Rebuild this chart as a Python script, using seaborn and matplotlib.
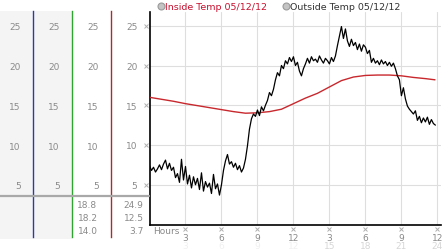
import numpy as np
import pandas as pd
import matplotlib
matplotlib.use("Agg")
import matplotlib.pyplot as plt
import seaborn as sns
from matplotlib.transforms import blended_transform_factory
from matplotlib.patches import Rectangle
from matplotlib.lines import Line2D

# ---------------- data ----------------
inside_hours = [0, 1, 2, 3, 4, 5, 6, 7, 8, 9, 10, 11, 12, 13, 14, 15, 16, 17, 18, 19, 20, 21, 22, 23, 23.8]
inside_temp = [16.0, 15.75, 15.5, 15.2, 14.95, 14.7, 14.45, 14.2, 14.0, 14.05, 14.2, 14.5, 15.2,
               15.9, 16.5, 17.3, 18.1, 18.55, 18.75, 18.8, 18.8, 18.7, 18.5, 18.35, 18.2]

# outside temperature, 10-minute readings from 00:00
outside_temp = [
    7.4, 6.8, 7.2, 6.6, 7.0, 7.5,
    6.9, 7.6, 8.1, 7.0, 7.7, 6.8,
    7.2, 5.9, 6.4, 5.3, 8.2, 5.6,
    7.3, 5.1, 6.2, 4.6, 6.0, 5.0,
    5.8, 4.4, 6.5, 4.2, 5.4, 4.7,
    5.2, 3.9, 6.3, 4.5, 5.1, 3.7,
    5.0, 6.8, 8.0, 8.8, 7.6, 7.9,
    7.2, 7.7, 6.9, 7.4, 6.6, 7.1,
    8.2, 9.9, 12.0, 13.3, 13.9, 13.6,
    14.4, 13.7, 14.8, 14.3, 15.0, 15.6,
    16.6, 16.2, 17.0, 18.2, 19.1, 18.7,
    20.0, 19.6, 20.6, 20.2, 21.0, 20.5,
    21.1, 20.0, 20.4, 19.3, 18.7, 19.6,
    20.2, 20.9, 20.3, 21.1, 20.6, 20.8,
    20.4, 21.2, 20.7, 20.3, 20.9, 20.6,
    20.2, 21.0, 20.5, 21.2, 22.5, 23.7,
    24.9, 23.4, 24.6, 23.1, 22.4, 23.3,
    22.5, 22.9, 22.0, 22.7, 21.8, 22.6,
    22.3, 21.5, 21.9, 20.4, 20.9, 20.3,
    20.6, 20.1, 20.7, 20.2, 20.5, 20.0,
    20.4, 19.9, 20.3, 19.6, 18.7, 18.2,
    16.2, 17.2, 15.8, 14.9, 14.5, 14.2,
    13.9, 14.3, 13.1, 13.6, 12.8, 13.4,
    12.9, 13.5, 12.6, 13.2, 12.7, 12.5,
]
outside_hours = [i / 6 for i in range(len(outside_temp))]

y_ticks = [5, 10, 15, 20, 25]
x_ticks = [3, 6, 9, 12, 15, 18, 21, 24]
x_labels = ["3", "6", "9", "12", "3", "6", "9", "12"]
x_labels2 = ["3", "6", "9", "12", "15", "18", "21", "24"]
legend_labels = ["Inside Temp 05/12/12", "Outside Temp 05/12/12"]
stats_inside = ["18.8", "18.2", "14.0"]
stats_outside = ["24.9", "12.5", "3.7"]

inside_df = pd.DataFrame({"hour": inside_hours, "temp": inside_temp})
outside_df = pd.DataFrame({"hour": outside_hours, "temp": outside_temp})

# ---------------- style ----------------
sns.set_style("white")
plt.rcParams["font.family"] = ["DejaVu Sans"]
FS = 6.5
LABEL_C = "#8a8a8a"

W, H = 442, 253
fig = plt.figure(figsize=(W / 100, H / 100), dpi=100)


def rect(x0, y0, x1, y1):
    return [x0 / W, 1 - y1 / H, (x1 - x0) / W, (y1 - y0) / H]


# background of left columns (drawn beneath every axes)
fig.patches.append(Rectangle((0, 1 - 240 / H), 72 / W, (240 - 12) / H,
                             transform=fig.transFigure, facecolor="#f4f4f4",
                             edgecolor="none", zorder=-5))

# main axes
Y0_PX, PX_PER_UNIT = 225.5, 7.95
ax = fig.add_axes(rect(149.5, 13, 441, 225.5))
ax.set_facecolor("none")
ax.set_ylim(0, (Y0_PX - 13) / PX_PER_UNIT)
ax.set_xlim(0, 24.3)

sns.lineplot(data=inside_df, x="hour", y="temp", ax=ax, color="#c8282d", lw=1.0, zorder=3)
sns.lineplot(data=outside_df, x="hour", y="temp", ax=ax, color="black", lw=0.9, zorder=4)

ax.set_xlabel("")
ax.set_ylabel("")
ax.set_yticks(y_ticks)
ax.set_yticklabels([str(t) for t in y_ticks])
ax.set_xticks(x_ticks)
ax.set_xticklabels(x_labels)
ax.tick_params(axis="y", length=0, pad=8.8, labelsize=FS, labelcolor=LABEL_C)
ax.tick_params(axis="x", length=0, pad=6.0, labelsize=FS, labelcolor=LABEL_C)
ax.grid(True, color="#dedede", lw=0.8)
for s in ["top", "right"]:
    ax.spines[s].set_visible(False)
ax.spines["left"].set_color("black")
ax.spines["bottom"].set_color("black")
ax.spines["left"].set_linewidth(1.2)
ax.spines["bottom"].set_linewidth(1.2)

# small tick glyphs
tr_y = blended_transform_factory(ax.transAxes, ax.transData)
ax.plot([-0.012] * len(y_ticks), y_ticks, ls="none", marker="x", ms=2.4, mew=0.7,
        color="#b0b0b0", transform=tr_y, clip_on=False)
tr_x = blended_transform_factory(ax.transData, ax.transAxes)
ax.plot(x_ticks, [-0.021] * len(x_ticks), ls="none", marker="x", ms=2.4, mew=0.7,
        color="#b0b0b0", transform=tr_x, clip_on=False)

# secondary hour labels
for i, (t, lab) in enumerate(zip(x_ticks, x_labels2)):
    col = "#f0f0f0" if i < 4 else "#d6d6d6"
    ax.text(t, (Y0_PX - 247) / 212.5, lab, transform=tr_x, ha="center", va="center",
            fontsize=FS, color=col, clip_on=False)

fig.text(153 / W, 1 - 232 / H, "Hours", ha="left", va="center", fontsize=FS, color=LABEL_C)

# left axis columns
ylo = (Y0_PX - 238) / PX_PER_UNIT
yhi = (Y0_PX - 12) / PX_PER_UNIT
for xline, color in [(33, "#2a3aa8"), (72, "#2fa52f"), (111, "#b02a2a")]:
    cax = fig.add_axes(rect(xline, 12, xline + 1, 238))
    cax.set_facecolor("none")
    cax.set_zorder(1)
    cax.set_ylim(ylo, yhi)
    cax.set_xticks([])
    cax.set_yticks(y_ticks)
    cax.set_yticklabels([str(t) for t in y_ticks])
    cax.tick_params(axis="y", length=0, pad=8.8, labelsize=FS, labelcolor=LABEL_C)
    for s in ["top", "right", "bottom"]:
        cax.spines[s].set_visible(False)
    cax.spines["left"].set_color(color)
    cax.spines["left"].set_linewidth(1.0)

# separator line
fig.add_artist(Line2D([0, 149 / W], [1 - 197 / H, 1 - 197 / H], transform=fig.transFigure,
                      color="#a8a8a8", lw=1.6, zorder=5))

# stats
for i, (a, b) in enumerate(zip(stats_inside, stats_outside)):
    yy = 1 - (205.5 + 13 * i) / H
    fig.text(97.5 / W, yy, a, ha="right", va="center", fontsize=FS, color=LABEL_C)
    fig.text(143.5 / W, yy, b, ha="right", va="center", fontsize=FS, color=LABEL_C)

# legend
ov = fig.add_axes([0, 0, 1, 1])
ov.set_xlim(0, W)
ov.set_ylim(H, 0)
ov.axis("off")
ov.set_facecolor("none")
for cx, lab, col in [(160.5, legend_labels[0], "#c8102e"), (285.5, legend_labels[1], "#333333")]:
    ov.plot([cx], [6.8], marker="o", ms=5, mfc="#c4c4c4", mec="#9a9a9a", mew=0.8, ls="none")
    ov.text(cx + 4.5, 7, lab, ha="left", va="center", fontsize=FS + 0.3, color=col)

fig.savefig("out.png", dpi=100)
